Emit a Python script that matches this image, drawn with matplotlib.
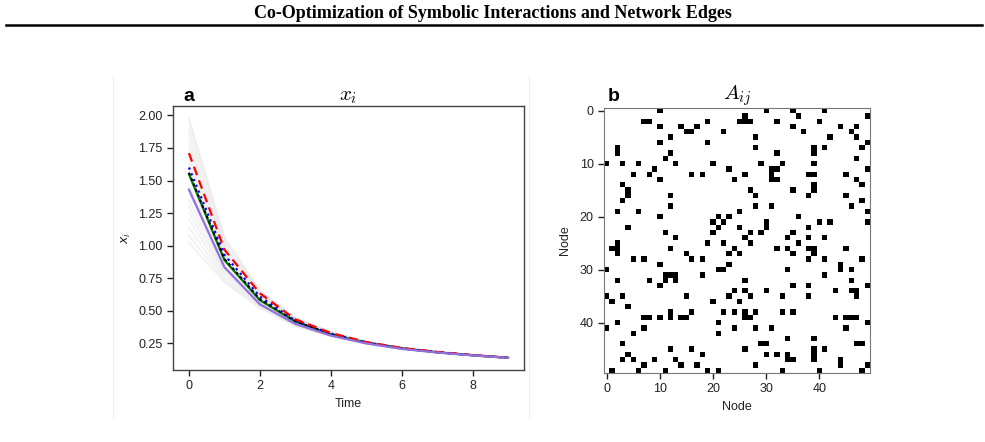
import numpy as np
import matplotlib.pyplot as plt
from matplotlib.lines import Line2D

plt.rcParams['font.family'] = ['Liberation Sans', 'DejaVu Sans']

# panel a: node states over time
time = [0, 1, 2, 3, 4, 5, 6, 7, 8, 9]
x_red = [1.71, 0.97, 0.635, 0.435, 0.33, 0.26, 0.215, 0.185, 0.16, 0.14]
x_blue = [1.60, 0.93, 0.61, 0.425, 0.325, 0.258, 0.213, 0.183, 0.16, 0.14]
x_black = [1.56, 0.90, 0.59, 0.42, 0.322, 0.256, 0.212, 0.182, 0.159, 0.14]
x_green = [1.55, 0.89, 0.582, 0.418, 0.32, 0.255, 0.212, 0.182, 0.159, 0.14]
x_purple = [1.43, 0.835, 0.55, 0.40, 0.31, 0.25, 0.208, 0.18, 0.158, 0.139]

gray_lines = [
    [1.98, 1.07, 0.66, 0.45, 0.34, 0.265, 0.218, 0.187, 0.162, 0.141],
    [1.95, 1.05, 0.655, 0.445, 0.338, 0.264, 0.217, 0.186, 0.162, 0.141],
    [1.90, 1.03, 0.645, 0.44, 0.336, 0.263, 0.217, 0.186, 0.161, 0.141],
    [1.85, 1.01, 0.64, 0.44, 0.334, 0.262, 0.216, 0.185, 0.161, 0.140],
    [1.80, 0.99, 0.63, 0.435, 0.332, 0.261, 0.216, 0.185, 0.161, 0.140],
    [1.76, 0.97, 0.625, 0.43, 0.33, 0.26, 0.215, 0.185, 0.160, 0.140],
    [1.70, 0.95, 0.62, 0.43, 0.328, 0.259, 0.215, 0.184, 0.160, 0.140],
    [1.66, 0.93, 0.61, 0.425, 0.326, 0.258, 0.214, 0.184, 0.160, 0.140],
    [1.62, 0.92, 0.605, 0.42, 0.325, 0.258, 0.213, 0.183, 0.160, 0.140],
    [1.58, 0.90, 0.60, 0.42, 0.323, 0.257, 0.213, 0.183, 0.159, 0.140],
    [1.52, 0.88, 0.59, 0.415, 0.321, 0.256, 0.212, 0.182, 0.159, 0.139],
    [1.47, 0.86, 0.58, 0.41, 0.319, 0.255, 0.211, 0.182, 0.159, 0.139],
    [1.40, 0.84, 0.57, 0.405, 0.317, 0.254, 0.211, 0.181, 0.158, 0.139],
    [1.35, 0.82, 0.565, 0.40, 0.315, 0.253, 0.210, 0.181, 0.158, 0.139],
    [1.30, 0.80, 0.56, 0.40, 0.314, 0.252, 0.210, 0.180, 0.158, 0.139],
    [1.25, 0.79, 0.55, 0.395, 0.312, 0.251, 0.209, 0.180, 0.157, 0.138],
    [1.20, 0.77, 0.545, 0.39, 0.311, 0.250, 0.209, 0.180, 0.157, 0.138],
    [1.14, 0.75, 0.54, 0.39, 0.309, 0.249, 0.208, 0.179, 0.157, 0.138],
    [1.08, 0.73, 0.53, 0.385, 0.307, 0.248, 0.208, 0.179, 0.157, 0.138],
    [1.02, 0.72, 0.52, 0.38, 0.305, 0.247, 0.207, 0.178, 0.156, 0.138],
]

# panel b: adjacency matrix, undirected edges (i < j)
n_nodes = 50
edges = [
    (0, 10), (2, 7), (2, 8), (2, 19), (3, 10), (3, 14), (3, 17), (4, 15), (4, 16),
    (4, 22), (5, 12), (6, 10), (6, 19), (8, 12), (9, 11), (10, 13), (10, 20),
    (11, 23), (12, 16), (12, 18), (13, 24), (20, 21), (20, 23), (21, 22),
    (0, 30), (0, 35), (0, 41), (1, 26), (1, 36), (1, 49), (2, 25), (2, 26), (2, 27),
    (2, 32), (2, 40), (3, 35), (3, 44), (3, 47), (4, 37), (4, 46), (5, 28), (5, 42),
    (5, 47), (6, 49), (7, 28), (7, 39), (7, 41), (7, 48), (8, 32), (8, 39), (9, 47),
    (10, 29), (10, 33), (10, 39), (11, 31), (11, 32), (11, 49), (12, 26), (12, 31),
    (12, 38), (12, 39), (12, 45), (13, 31), (13, 32), (13, 47), (14, 39), (14, 48),
    (15, 27), (15, 35), (15, 39), (16, 28), (16, 38), (16, 45), (17, 48), (18, 28),
    (18, 31), (18, 46), (19, 25), (19, 49), (20, 36), (21, 30), (21, 40), (21, 42),
    (21, 49), (22, 25), (22, 30), (22, 38), (23, 27), (23, 29), (23, 35), (24, 26),
    (24, 34), (24, 38), (24, 41),
    (25, 27), (25, 36), (26, 32), (26, 34), (26, 38), (26, 39), (26, 45), (27, 35),
    (27, 39), (28, 38), (28, 41), (28, 48), (29, 44), (30, 34), (30, 44), (30, 46),
    (31, 41), (32, 46), (33, 35), (33, 38), (33, 49), (34, 43), (34, 46), (34, 47),
    (35, 38), (35, 47), (39, 43), (39, 45), (39, 46), (39, 47), (40, 49), (41, 45),
    (44, 47), (44, 48), (48, 49),
]

A = np.zeros((n_nodes, n_nodes))
for i, j in edges:
    A[i, j] = 1
    A[j, i] = 1

W, H = 985, 442
fig = plt.figure(figsize=(W / 100, H / 100), dpi=100)

# page header
fig.text(0.5, 1 - 13 / H, "Co-Optimization of Symbolic Interactions and Network Edges",
         ha='center', va='center', family='Liberation Serif', weight='bold', fontsize=13)
fig.add_artist(Line2D([6 / W, 982 / W], [1 - 25 / H] * 2, color='black', lw=1.8))

# faint borders of the embedded panel-a image
for xb in (113, 529):
    fig.add_artist(Line2D([xb / W] * 2, [1 - 75 / H, 1 - 418 / H], color='#eeeeee', lw=0.8))

# ---- panel a
ax1 = fig.add_axes([173 / W, 1 - 370 / H, (524 - 173) / W, (370 - 106) / H])
for g in gray_lines:
    ax1.plot(time, g, color='#e2e2e2', lw=1.2, alpha=0.45)
ax1.plot(time, x_green, color='#007a00', lw=1.6)
ax1.plot(time, x_black, color='black', lw=1.4, ls=(0, (1.5, 1.5)))
ax1.plot(time, x_blue, color='#0000ff', lw=1.6, ls=(0, (1, 1.8)))
ax1.plot(time, x_red, color='#ff0000', lw=1.6, ls=(0, (4, 2.5)))
ax1.plot(time, x_purple, color='#9370db', lw=1.6)

ax1.set_xticks([0, 2, 4, 6, 8])
ax1.set_yticks([0.25, 0.5, 0.75, 1.0, 1.25, 1.5, 1.75, 2.0])
ax1.set_yticklabels(["0.25", "0.50", "0.75", "1.00", "1.25", "1.50", "1.75", "2.00"])
ax1.tick_params(labelsize=9, length=4, width=1, colors='#222222', direction='out')
for s in ax1.spines.values():
    s.set_color('#444444')
    s.set_linewidth(1)
ax1.set_xlabel("Time", fontsize=9, color='#222222', labelpad=4)
ax1.set_ylabel("$x_i$", fontsize=9, color='#222222', labelpad=4)
ax1.set_title("$x_i$", fontsize=15, math_fontfamily='cm', pad=1)
ax1.text(183 / W, 1 - 101 / H, "a", transform=fig.transFigure, fontsize=14,
         weight='bold', ha='left', va='baseline')

# ---- panel b
ax2 = fig.add_axes([604 / W, 1 - 373 / H, (870 - 604) / W, (373 - 108) / H])
ax2.imshow(A, cmap='gray_r', interpolation='nearest', aspect='auto', vmin=0, vmax=1)
ax2.set_xticks([0, 10, 20, 30, 40])
ax2.set_yticks([0, 10, 20, 30, 40])
ax2.tick_params(labelsize=9, length=4, width=1, colors='#222222', direction='out')
for s in ax2.spines.values():
    s.set_color('#777777')
    s.set_linewidth(0.8)
ax2.set_xlabel("Node", fontsize=9, color='#222222', labelpad=4)
ax2.set_ylabel("Node", fontsize=9, color='#222222', labelpad=6)
ax2.set_title("$A_{ij}$", fontsize=15, math_fontfamily='cm', pad=3)
ax2.text(608 / W, 1 - 101 / H, "b", transform=fig.transFigure, fontsize=14,
         weight='bold', ha='left', va='baseline')

fig.savefig("out.png", dpi=100)
